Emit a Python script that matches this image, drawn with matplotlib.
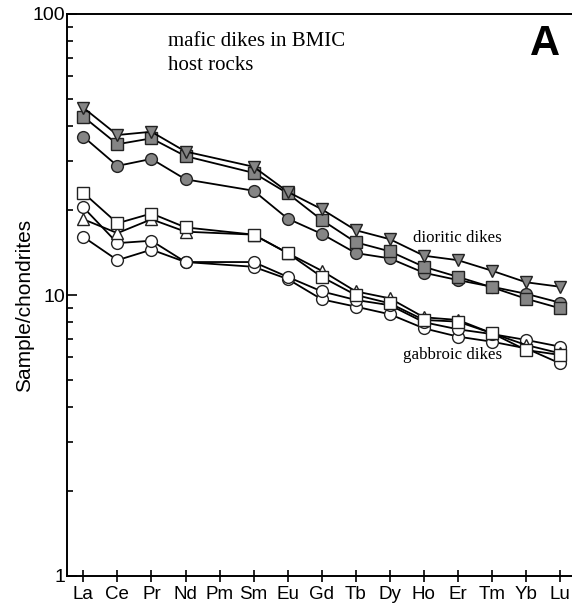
import matplotlib
matplotlib.use("Agg")
import matplotlib.pyplot as plt
import numpy as np
from matplotlib.ticker import LogLocator, NullFormatter, FixedLocator

elements = ["La", "Ce", "Pr", "Nd", "Pm", "Sm", "Eu", "Gd", "Tb", "Dy", "Ho", "Er", "Tm", "Yb", "Lu"]
# Pm has no data (None)
dior_tri = [46.4, 37.1, 38.1, 32.4, None, 28.6, 23.3, 20.2, 17.0, 15.8, 13.8, 13.3, 12.2, 11.1, 10.7]
dior_sq = [43.1, 34.4, 36.1, 31.2, None, 27.2, 23.0, 18.5, 15.4, 14.3, 12.6, 11.6, 10.65, 9.7, 8.97]
dior_circ = [36.6, 28.8, 30.5, 25.8, None, 23.5, 18.7, 16.5, 14.1, 13.5, 12.0, 11.3, 10.7, 10.1, 9.39]
gab_sq = [23.1, 18.0, 19.5, 17.4, None, 16.4, 14.1, 11.6, 10.0, 9.34, 8.15, 8.04, 7.31, 6.37, 6.12]
gab_tri = [18.6, 16.6, 18.6, 16.8, None, 16.4, 14.1, 12.2, 10.3, 9.73, 8.33, 8.15, 7.31, 6.64, 6.2]
gab_circ1 = [20.5, 15.3, 15.6, 13.1, None, 13.1, 11.6, 10.3, 9.6, 9.2, 8.0, 7.55, 7.26, 6.92, 6.55]
gab_circ2 = [16.1, 13.3, 14.5, 13.1, None, 12.6, 11.4, 9.65, 9.09, 8.54, 7.61, 7.11, 6.82, 6.46, 5.71]

W, H = 572, 606
fig = plt.figure(figsize=(W / 100, H / 100), dpi=100)
ax = fig.add_axes([67 / W, 1 - 576 / H, 1 - 67 / W, (576 - 14) / H])

x_all = np.arange(1, len(elements) + 1)

def plot_series(vals, marker, fc, ms):
    xs = [x for x, v in zip(x_all, vals) if v is not None]
    ys = [v for v in vals if v is not None]
    ax.plot(xs, ys, color="black", lw=1.3, marker=marker, ms=ms,
            mfc=fc, mec="#222222", mew=1.0, zorder=3)

gray = "#858585"
plot_series(gab_circ2, "o", "white", 8.5)
plot_series(gab_circ1, "o", "white", 8.5)
plot_series(gab_tri, "^", "white", 9)
plot_series(gab_sq, "s", "white", 8)
plot_series(dior_circ, "o", gray, 8.5)
plot_series(dior_sq, "s", gray, 8)
plot_series(dior_tri, "v", gray, 9)

ax.set_yscale("log")
ax.set_ylim(1, 100)
ax.set_xlim(0.52, 15.35)

ax.spines["right"].set_visible(False)
for s in ["left", "bottom", "top"]:
    ax.spines[s].set_linewidth(1.4)

sans = "Liberation Sans"
serif = "Liberation Serif"

ax.set_xticks(x_all)
ax.set_xticklabels(elements, fontfamily=sans, fontsize=13.5)
ax.tick_params(axis="x", direction="inout", length=9, width=1.2, pad=3)

ax.yaxis.set_major_locator(FixedLocator([1, 10, 100]))
ax.set_yticklabels(["1", "10", "100"], fontfamily=sans, fontsize=14)
ax.yaxis.set_minor_locator(LogLocator(base=10, subs=np.arange(2, 10)))
ax.yaxis.set_minor_formatter(NullFormatter())
ax.tick_params(axis="y", which="major", direction="in", length=7, width=1.2, pad=1)
ax.tick_params(axis="y", which="minor", direction="in", length=4, width=1.2)

fig.text(25 / W, 1 - 305 / H, "Sample/chondrites", fontfamily=sans, fontsize=15,
         rotation=90, ha="center", va="center")

fig.text(168 / W, 1 - 46 / H, "mafic dikes in BMIC", fontfamily=serif, fontsize=15,
         ha="left", va="baseline")
fig.text(168 / W, 1 - 70 / H, "host rocks", fontfamily=serif, fontsize=15,
         ha="left", va="baseline")
fig.text(1 - 12 / W, 1 - 55 / H, "A", fontfamily=sans,
         fontweight="bold", fontsize=30, ha="right", va="baseline")
fig.text(413 / W, 1 - 238 / H, "dioritic dikes",
         fontfamily=serif, fontsize=12.2, ha="left", va="center")
fig.text(403 / W, 1 - 355 / H, "gabbroic dikes",
         fontfamily=serif, fontsize=12.2, ha="left", va="center")

fig.savefig("out.png", dpi=100)
